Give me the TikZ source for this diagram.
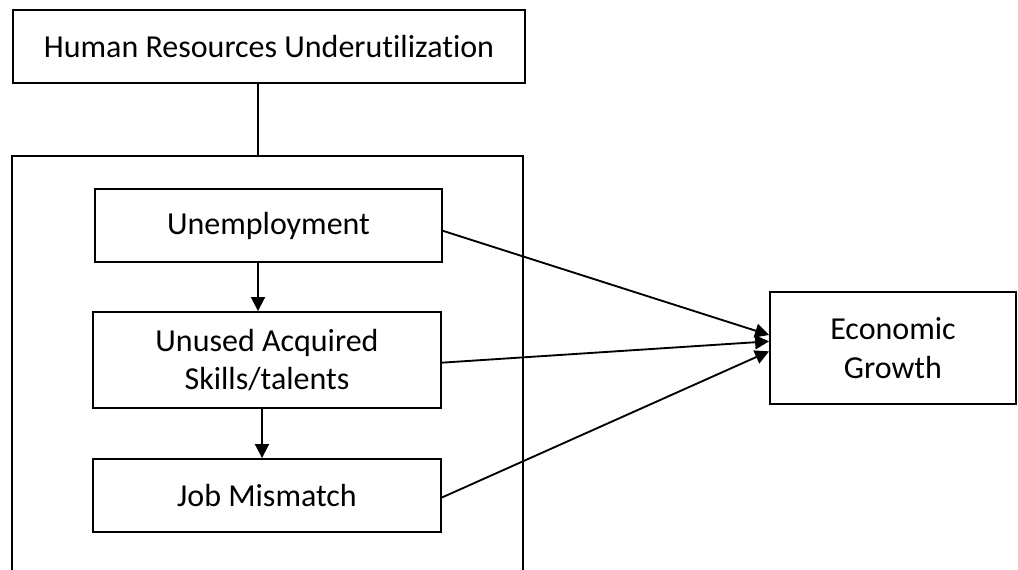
\documentclass[tikz,border=0pt]{standalone}
\usepackage{fontspec}
\setmainfont{Carlito}[Ligatures=NoCommon]
\usetikzlibrary{arrows.meta}

\begin{document}
\begin{tikzpicture}[x=0.75pt, y=-0.75pt, line width=1.4pt,
  box/.style={draw, inner sep=0pt, align=center, font=\fontsize{24}{29}\selectfont},
  >={Triangle[length=10.5pt, width=10.5pt]}]
\useasboundingbox (0,0) rectangle (1018,570);

% Top box
\node[box, minimum width=384pt, minimum height=54.75pt] (hru) at (269,46.5) {Human Resources Underutilization};

% Group box (runs off the bottom of the page)
\node[draw, inner sep=0pt, minimum width=383.25pt, minimum height=333pt] (grp) at (267.5,378) {};
\coordinate (link) at (258,156);
\draw (link |- hru.south) -- (link);

% Forms of underutilization
\node[box, minimum width=260.25pt, minimum height=54.75pt] (unemp) at (268.5,225.5) {Unemployment};
\node[box, minimum width=261pt, minimum height=72pt] (unused) at (267,360) {Unused Acquired\\Skills/talents};
\node[box, minimum width=261pt, minimum height=54.75pt] (job) at (267,495.5) {Job Mismatch};

\draw[->] (unemp.south -| link) -- (unused.north -| link);
\draw[->] ([xshift=3pt]unused.south -| link) -- ([xshift=3pt]job.north -| link);

% Outcome
\node[box, minimum width=184.5pt, minimum height=84pt] (eg) at (893,348) {Economic\\Growth};

\draw[->] ([yshift=-4pt]unemp.east) -- ([yshift=9.75pt]eg.west);
\draw[->] ([yshift=-2pt]unused.east) -- ([yshift=5pt]eg.west);
\draw[->] ([yshift=-1.5pt]job.east) -- ([yshift=-2.5pt]eg.west);
\end{tikzpicture}
\end{document}
